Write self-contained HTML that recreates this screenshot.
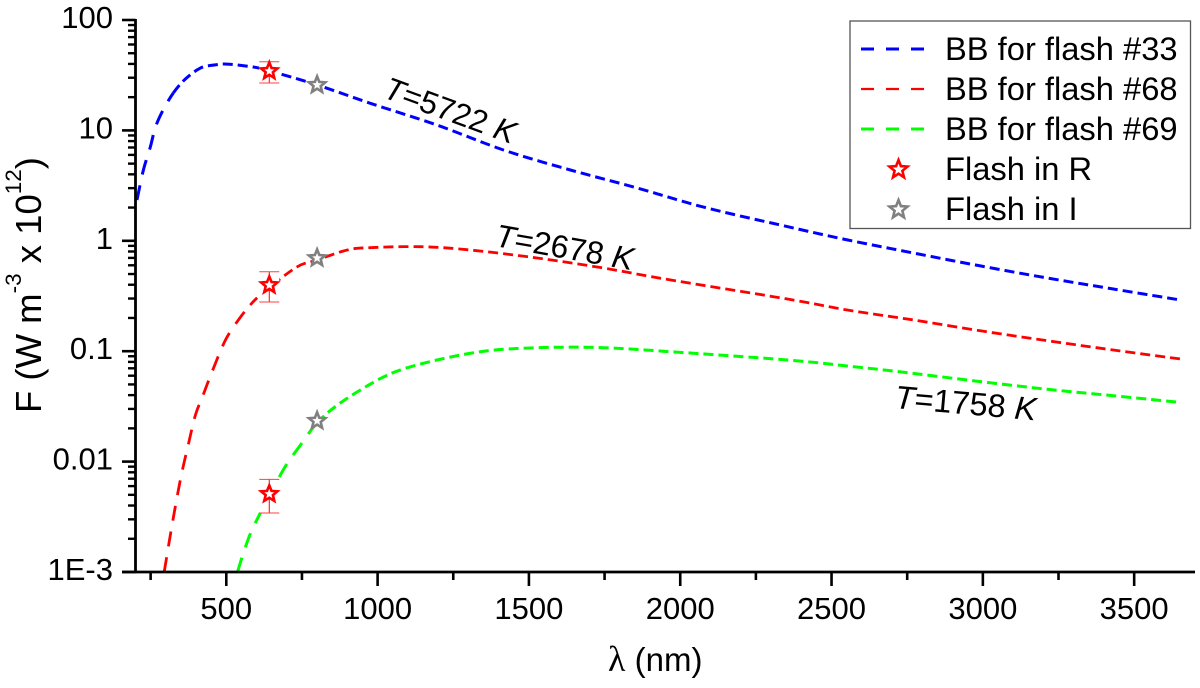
<!DOCTYPE html>
<html lang="en">
<head>
<meta charset="utf-8">
<title>Blackbody fits for flashes</title>
<style>
html,body{margin:0;padding:0;background:#fff;}
svg{display:block;font-family:"Liberation Sans",sans-serif;fill:#000;}
</style>
</head>
<body>
<svg id="chart" xmlns="http://www.w3.org/2000/svg" width="1200" height="688" viewBox="0 0 1200 688">
  <rect x="0" y="0" width="1200" height="688" fill="#fff"/>
  <g id="series-layer"></g>
  <g id="axis-layer"></g>
  <g id="marker-layer"></g>

  <text transform="translate(41,413) rotate(-90)" font-size="36.5">F (W m<tspan font-size="22.5" dy="-20">-3</tspan><tspan dy="20"> x 10</tspan><tspan font-size="22.5" dy="-20">12</tspan><tspan dy="20">)</tspan></text>
  <text x="608" y="671" font-size="33"><tspan font-family="'Liberation Serif',serif" font-size="36">λ</tspan> (nm)</text>

  <text transform="translate(382,97) rotate(20)" font-size="31.5"><tspan font-style="italic">T</tspan>=5722 <tspan font-style="italic">K</tspan></text>
  <text transform="translate(494,246) rotate(10)" font-size="32"><tspan font-style="italic">T</tspan>=2678 <tspan font-style="italic">K</tspan></text>
  <text transform="translate(894,408) rotate(5)" font-size="32.5"><tspan font-style="italic">T</tspan>=1758 <tspan font-style="italic">K</tspan></text>

  <g>
    <rect x="850" y="21" width="340.5" height="207.5" fill="#fff" stroke="#555" stroke-width="1.3"/>
    <g>
      <line x1="861" y1="49" x2="924" y2="49" stroke="#0000ff" stroke-width="3" stroke-dasharray="13 12"/>
      <text x="945" y="60" font-size="32.7">BB for flash #33</text>
    </g>
    <g>
      <line x1="861" y1="89" x2="924" y2="89" stroke="#ff0000" stroke-width="2.2" stroke-dasharray="13 12"/>
      <text x="945" y="100" font-size="32.7">BB for flash #68</text>
    </g>
    <g>
      <line x1="861" y1="129" x2="924" y2="129" stroke="#00ff00" stroke-width="3" stroke-dasharray="13 12"/>
      <text x="945" y="140" font-size="32.7">BB for flash #69</text>
    </g>
    <g>
      <polygon points="898.5,160 900.9,166.1 907.5,166.6 902.4,170.8 904,177.3 898.5,173.7 893,177.3 894.6,170.8 889.5,166.6 896.1,166.1" fill="#fff" stroke="#ff0000" stroke-width="2.6"/>
      <text x="945" y="180" font-size="32.7">Flash in R</text>
    </g>
    <g>
      <polygon points="898.5,200 900.9,206.1 907.5,206.6 902.4,210.8 904,217.3 898.5,213.7 893,217.3 894.6,210.8 889.5,206.6 896.1,206.1" fill="#fff" stroke="#808080" stroke-width="2.6"/>
      <text x="945" y="220" font-size="32.7">Flash in I</text>
    </g>
  </g>
</svg>
<script>
// ---- chart data ----
const wavelengths33 = [205,226,249,265,288,325,365,414,460,503,589,645,800,976,1196,1416,1637,1858,2077,2331,2552,2770,2992,3213,3431,3653];
const flux33 = [2.34,4.38,7.07,10.5,14.7,21.8,29.2,36.7,39.1,39.9,37.5,34.5,25.8,17.6,11.2,6.64,4.38,3.01,2.02,1.39,1.02,0.776,0.592,0.46,0.366,0.291];

const wavelengths68 = [295,322,348,374,398,421,453,497,540,579,622,645,735,800,900,976,1141,1306,1527,1746,1967,2354,2552,2770,2992,3213,3431,3653];
const flux68 = [0.001,0.00278,0.0068,0.0141,0.0264,0.0385,0.0652,0.126,0.192,0.262,0.344,0.385,0.583,0.67,0.826,0.866,0.885,0.826,0.698,0.567,0.442,0.297,0.236,0.192,0.153,0.1245,0.1025,0.085];

const wavelengths69 = [537,563,596,688,738,800,877,1000,1085,1196,1306,1416,1581,1746,1967,2354,2552,2770,2992,3213,3431,3653];
const flux69 = [0.001,0.00168,0.00278,0.0084,0.01327,0.0224,0.034,0.0548,0.069,0.0832,0.0957,0.104,0.1084,0.1076,0.099,0.0832,0.0735,0.063,0.053,0.0452,0.0395,0.0344];

const flashRWavelengths = [642,642,642];
const flashRFlux = [34.5,0.397,0.00509];
const flashRErrHigh = [41.9,0.525,0.0069];
const flashRErrLow = [26.9,0.279,0.00342];

const flashIWavelengths = [800,800,800];
const flashIFlux = [25.8,0.698,0.0234];

const xMajorTicks = [500,1000,1500,2000,2500,3000,3500];
const xMinorTicks = [250,750,1250,1750,2250,2750,3250];
const yMajorTicks = [100,10,1,0.1,0.01,0.001];
const yTickLabels = ["100","10","1","0.1","0.01","1E-3"];

// ---- axis functions ----
const PX_LEFT = 135.5, PX_RIGHT = 1195, PY_TOP = 20, PY_BOTTOM = 572;
const X_MIN = 200, X_MAX = 3701, LOG_MIN = -3, LOG_MAX = 2;
function xScale(v){ return PX_LEFT + (v - X_MIN) / (X_MAX - X_MIN) * (PX_RIGHT - PX_LEFT); }
function yScale(v){ return PY_BOTTOM - (Math.log10(v) - LOG_MIN) / (LOG_MAX - LOG_MIN) * (PY_BOTTOM - PY_TOP); }

const NS = "http://www.w3.org/2000/svg";
function make(tag, attrs, parent){
  const el = document.createElementNS(NS, tag);
  for (const k in attrs) el.setAttribute(k, attrs[k]);
  parent.appendChild(el);
  return el;
}
const seriesLayer = document.getElementById("series-layer");
const axisLayer = document.getElementById("axis-layer");
const markerLayer = document.getElementById("marker-layer");

// ---- curves: smooth spline; steep stretches carry longer dashes, as in the original export ----
function drawCurve(xs, ys, color, width, key){
  const pts = xs.map((x, i) => [xScale(x), yScale(ys[i])]);
  const n = pts.length;
  const isSteep = i => Math.abs((pts[i+1][1]-pts[i][1]) / (pts[i+1][0]-pts[i][0])) > 1.2;
  let d = "M" + pts[0][0].toFixed(1) + "," + pts[0][1].toFixed(1);
  for (let i = 0; i < n - 1; i++) {
    const p0 = pts[Math.max(i-1, 0)], p1 = pts[i], p2 = pts[i+1], p3 = pts[Math.min(i+2, n-1)];
    const c1x = p1[0] + (p2[0]-p0[0]) / 6, c1y = p1[1] + (p2[1]-p0[1]) / 6;
    const c2x = p2[0] - (p3[0]-p1[0]) / 6, c2y = p2[1] - (p3[1]-p1[1]) / 6;
    d += "C" + [c1x, c1y, c2x, c2y, p2[0], p2[1]].map(v => v.toFixed(1)).join(",");
    const end = i === n - 2 || isSteep(i) !== isSteep(i+1);
    if (end) {
      const line = make("path", {d: d, fill: "none", stroke: color, "stroke-width": width, "stroke-dasharray": isSteep(i) ? "15 11" : "10 5"}, seriesLayer);
      
      
      d = "M" + p2[0].toFixed(1) + "," + p2[1].toFixed(1);
    }
  }
}
drawCurve(wavelengths33, flux33, "#0000ff", 3, "flash-33");
drawCurve(wavelengths68, flux68, "#ff0000", 2.8, "flash-68");
drawCurve(wavelengths69, flux69, "#00ff00", 3, "flash-69");

// ---- axes ----
const yAxisLine = make("line", {x1: PX_LEFT, y1: PY_TOP - 1, x2: PX_LEFT, y2: PY_BOTTOM + 1, stroke: "#000", "stroke-width": 2.8}, axisLayer);


const xAxisLine = make("line", {x1: 122, y1: PY_BOTTOM, x2: PX_RIGHT, y2: PY_BOTTOM, stroke: "#000", "stroke-width": 2.8}, axisLayer);



xMajorTicks.forEach(v => {
  const t = make("line", {x1: xScale(v), y1: PY_BOTTOM, x2: xScale(v), y2: PY_BOTTOM + 14, stroke: "#000", "stroke-width": 2.6}, axisLayer);
  
  
  const l = make("text", {x: xScale(v), y: 619, "font-size": 31, "text-anchor": "middle"}, axisLayer);
  l.textContent = String(v);
  
  
});
xMinorTicks.forEach(v => {
  const t = make("line", {x1: xScale(v), y1: PY_BOTTOM, x2: xScale(v), y2: PY_BOTTOM + 8, stroke: "#000", "stroke-width": 2.6}, axisLayer);
  
  
});
yMajorTicks.forEach((v, i) => {
  const t = make("line", {x1: 122, y1: yScale(v), x2: PX_LEFT, y2: yScale(v), stroke: "#000", "stroke-width": 2.6}, axisLayer);
  
  
  const l = make("text", {x: 113, y: yScale(v) + 8, "font-size": 31, "text-anchor": "end"}, axisLayer);
  l.textContent = yTickLabels[i];
  
  
  if (i > 0) {
    for (let m = 2; m <= 9; m++) {
      const mv = v * m;
      const mt = make("line", {x1: 128, y1: yScale(mv), x2: PX_LEFT, y2: yScale(mv), stroke: "#000", "stroke-width": 2.4}, axisLayer);
      
      
    }
  }
});

// ---- markers ----
function starPoints(cx, cy, R){
  const pts = [];
  for (let i = 0; i < 10; i++) {
    const r = i % 2 ? R * 0.44 : R;
    const a = -Math.PI / 2 + i * Math.PI / 5;
    pts.push((cx + r * Math.cos(a)).toFixed(1) + "," + (cy + r * Math.sin(a)).toFixed(1));
  }
  return pts.join(" ");
}
flashRWavelengths.forEach((w, i) => {
  const cx = xScale(w), hi = yScale(flashRErrHigh[i]), lo = yScale(flashRErrLow[i]);
  const knockout = make("rect", {x: cx - 10, y: hi, width: 20, height: lo - hi, fill: "#fff"}, markerLayer);
  
  
  const stem = make("line", {x1: cx, y1: hi, x2: cx, y2: lo, stroke: "#ff0000", "stroke-width": 1}, markerLayer);
  
  
  const capTop = make("line", {x1: cx - 10, y1: hi, x2: cx + 10, y2: hi, stroke: "#ff4040", "stroke-width": 1}, markerLayer);
  
  
  const capBottom = make("line", {x1: cx - 10, y1: lo, x2: cx + 10, y2: lo, stroke: "#ff4040", "stroke-width": 1}, markerLayer);
  
  
});
flashIWavelengths.forEach((w, i) => {
  const s = make("polygon", {points: starPoints(xScale(w), yScale(flashIFlux[i]), 8.6), fill: "#fff", stroke: "#808080", "stroke-width": 2.6}, markerLayer);
  
  
});
flashRWavelengths.forEach((w, i) => {
  const s = make("polygon", {points: starPoints(xScale(w), yScale(flashRFlux[i]), 8.6), fill: "#fff", stroke: "#ff0000", "stroke-width": 2.6}, markerLayer);
  
  
});
</script>
</body>
</html>
